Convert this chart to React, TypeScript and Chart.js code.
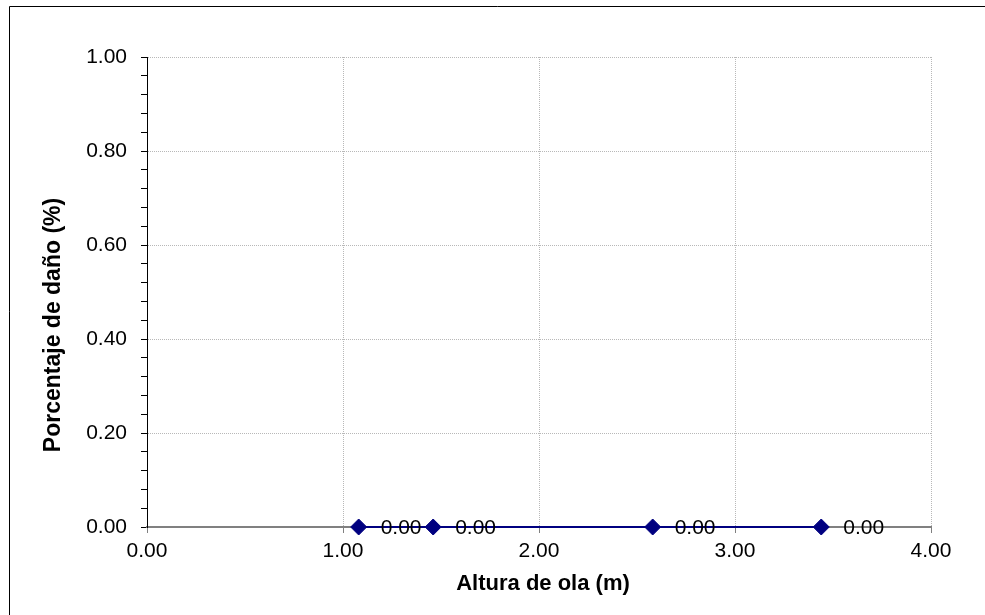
import React, { useEffect, useRef } from "react";
import { Chart, registerables } from "chart.js";

Chart.register(...registerables);

const waveHeights = [1.08, 1.46, 2.58, 3.44];
const damagePct = [0, 0, 0, 0];
const xTitle = "Altura de ola (m)";
const yTitle = "Porcentaje de daño (%)";
const X_MIN = 0, X_MAX = 4, X_STEP = 1;
const Y_MIN = 0, Y_MAX = 1, Y_MINOR = 0.04, Y_MAJOR = 0.2;

const FONT = "'Liberation Sans', Arial, sans-serif";

const isMajor = (v: number) => Math.abs(v / Y_MAJOR - Math.round(v / Y_MAJOR)) < 1e-6;

const framePlugin = {
  id: "frame",
  beforeDraw(chart: any) {
    const ctx = chart.ctx;
    ctx.save();
    ctx.fillStyle = "#ffffff";
    ctx.fillRect(0, 0, chart.width, chart.height);
    ctx.strokeStyle = "#000000";
    ctx.lineWidth = 1;
    ctx.beginPath();
    ctx.moveTo(9.5, chart.height + 5);
    ctx.lineTo(9.5, 6.5);
    ctx.lineTo(chart.width + 5, 6.5);
    ctx.stroke();
    ctx.restore();
  },
};

const labelsPlugin = {
  id: "pointLabels",
  afterDatasetsDraw(chart: any) {
    const ctx = chart.ctx;
    const meta = chart.getDatasetMeta(0);
    ctx.save();
    ctx.font = `21px ${FONT}`;
    ctx.fillStyle = "#000000";
    ctx.textAlign = "left";
    ctx.textBaseline = "middle";
    meta.data.forEach((pt: any, i: number) => {
      ctx.fillText(damagePct[i].toFixed(2), pt.x + 22, pt.y + 1);
    });
    ctx.restore();
  },
};

const titlesPlugin = {
  id: "axisTitles",
  afterDraw(chart: any) {
    const ctx = chart.ctx;
    const a = chart.chartArea;
    ctx.save();
    ctx.fillStyle = "#000000";
    ctx.textAlign = "center";
    ctx.textBaseline = "middle";
    ctx.font = `bold 22px ${FONT}`;
    ctx.fillText(xTitle, (a.left + a.right) / 2 + 4, a.bottom + 57);
    ctx.font = `bold 23px ${FONT}`;
    ctx.translate(a.left - 93, (a.top + a.bottom) / 2 + 33);
    ctx.rotate(-Math.PI / 2);
    ctx.fillText(yTitle, 0, 0);
    ctx.restore();
  },
};

export default function App() {
  const ref = useRef<HTMLCanvasElement | null>(null);

  useEffect(() => {
    if (!ref.current) return;
    const chart = new Chart(ref.current, {
      type: "scatter",
      data: {
        datasets: [
          {
            data: waveHeights.map((x, i) => ({ x, y: damagePct[i] })),
            showLine: true,
            borderColor: "#000080",
            backgroundColor: "#000080",
            borderWidth: 2,
            pointStyle: "rectRot",
            pointRadius: 8,
            pointBorderWidth: 1,
            pointBackgroundColor: "#000080",
            pointBorderColor: "#000080",
            tension: 0,
            clip: false as any,
          },
        ],
      },
      plugins: [framePlugin, labelsPlugin, titlesPlugin],
      options: {
        animation: false,
        responsive: false,
        layout: { padding: { left: 0, top: 57, right: 54, bottom: 0 } },
        plugins: {
          legend: { display: false },
          tooltip: { enabled: false },
          title: { display: false },
        },
        scales: {
          x: {
            type: "linear",
            min: X_MIN,
            max: X_MAX,
            afterFit: (s: any) => {
              s.height = 88;
            },
            ticks: {
              stepSize: X_STEP,
              padding: 6,
              color: "#000000",
              font: { family: FONT, size: 21 },
              callback: (v: any) => Number(v).toFixed(2),
              maxRotation: 0,
            },
            grid: {
              color: "#b8b8b8",
              lineWidth: 1,
              tickColor: "#808080",
              tickLength: 6,
              tickWidth: 1,
            },
            border: { color: "#808080", width: 2, dash: [1, 1] },
          },
          y: {
            type: "linear",
            min: Y_MIN,
            max: Y_MAX,
            afterFit: (s: any) => {
              s.width = 147;
            },
            ticks: {
              stepSize: Y_MINOR,
              padding: 14,
              color: "#000000",
              autoSkip: false,
              font: { family: FONT, size: 21 },
              callback: (v: any) => (isMajor(Number(v)) ? Number(v).toFixed(2) : ""),
            },
            grid: {
              color: (c: any) => (c.tick && isMajor(c.tick.value) ? "#b8b8b8" : "rgba(0,0,0,0)"),
              lineWidth: 1,
              tickColor: "#000000",
              tickLength: 6,
              tickWidth: 1,
            },
            border: { color: "#000000", width: 1, dash: [1, 1] },
          },
        },
      } as any,
    });
    return () => chart.destroy();
  }, []);

  return (
    <div style={{ position: "absolute", left: 0, top: 0, width: 985, height: 615 }}>
      <canvas ref={ref} width={985} height={615} style={{ display: "block" }} />
    </div>
  );
}
